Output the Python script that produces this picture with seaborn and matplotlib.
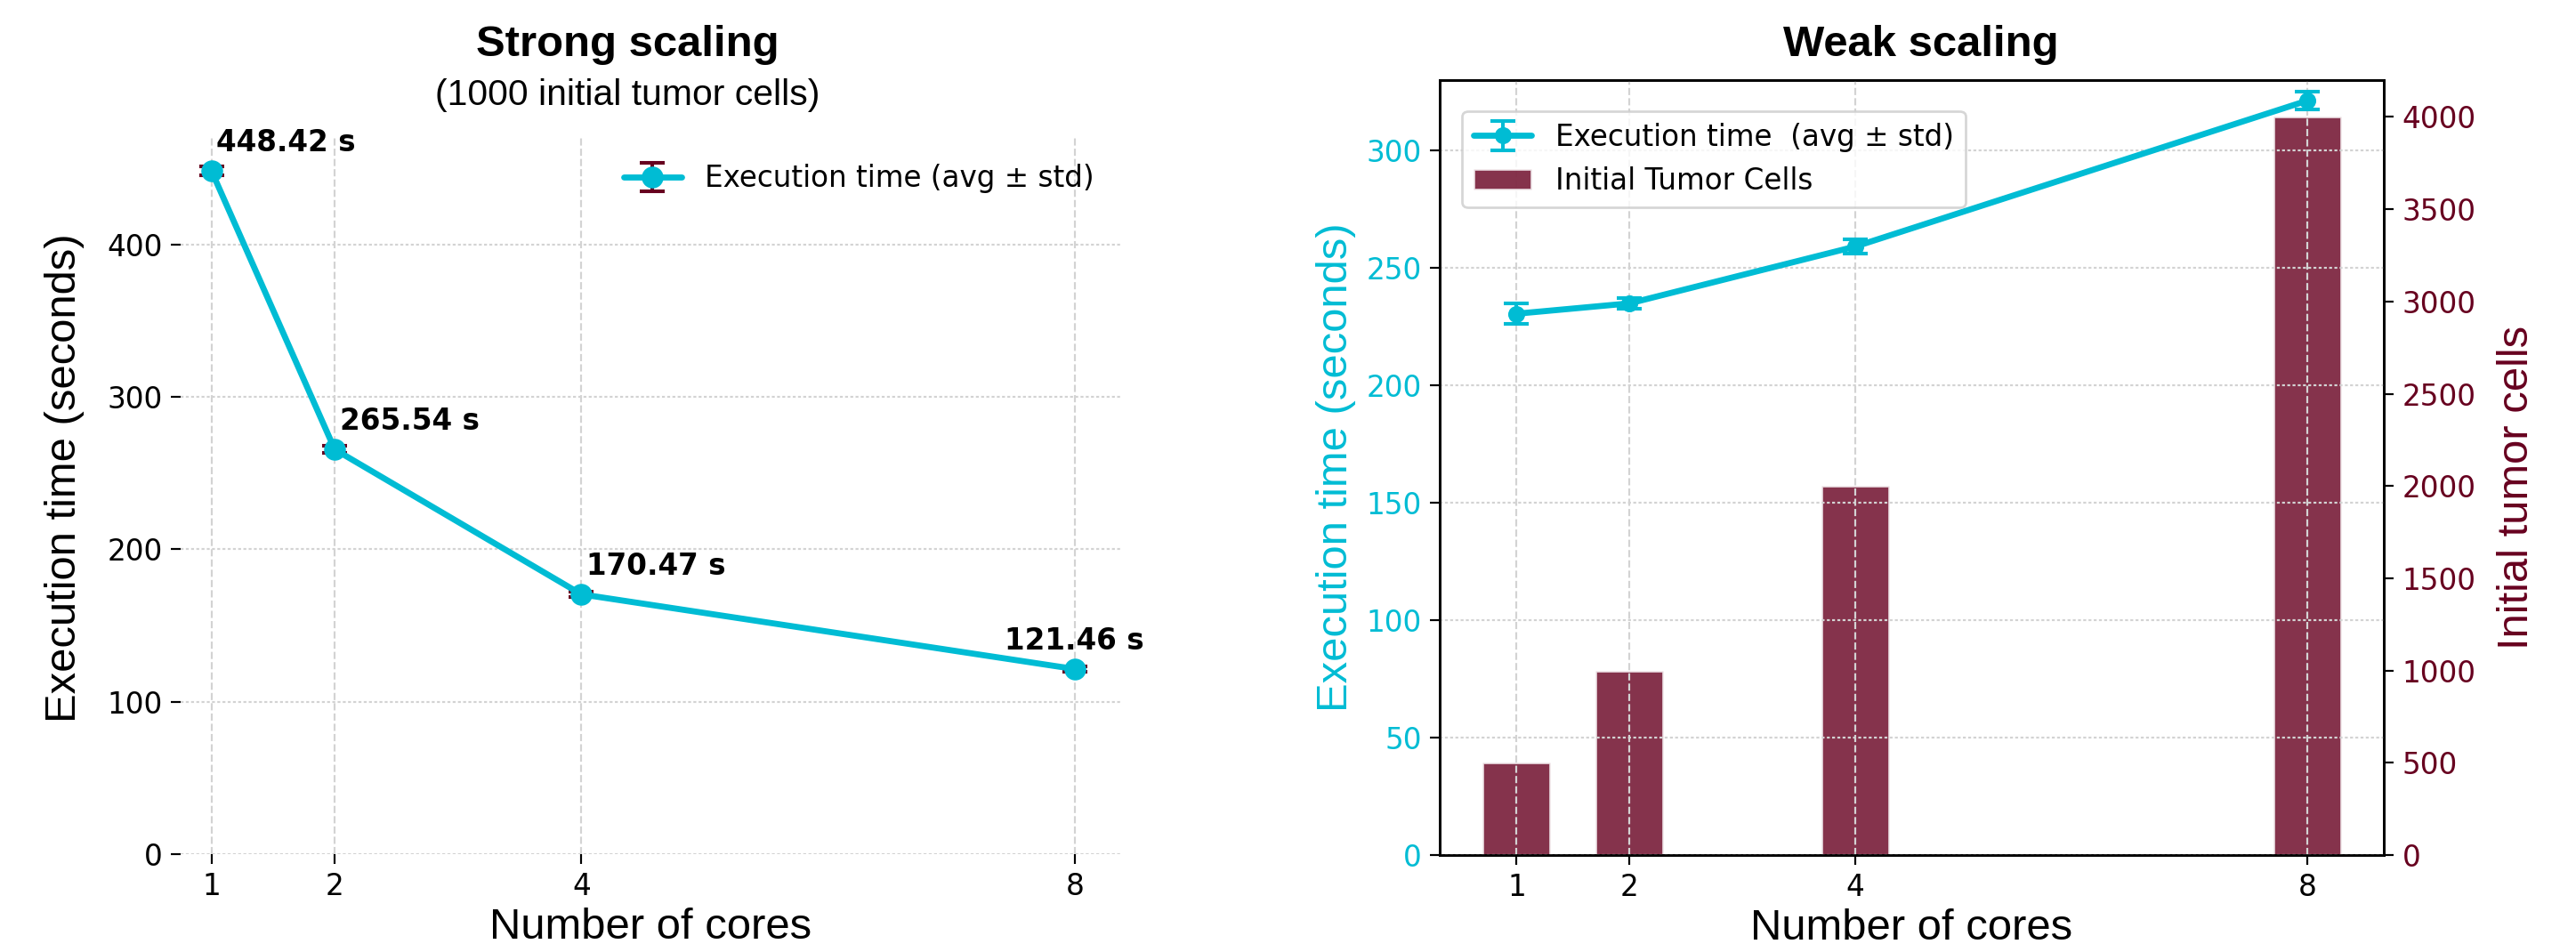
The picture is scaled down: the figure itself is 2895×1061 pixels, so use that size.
import matplotlib
matplotlib.use('Agg')
import matplotlib.pyplot as plt
import seaborn as sns

cores = [1, 2, 4, 8]

# strong scaling, 1000 initial tumor cells
strong_mean = [448.42, 265.54, 170.47, 121.46]
strong_std = [3.0, 2.5, 2.0, 1.5]

# weak scaling
weak_mean = [230.5, 234.9, 259.1, 321.2]
weak_std = [4.4, 2.3, 3.0, 3.9]
weak_cells = [500, 1000, 2000, 4000]

cyan = '#00bcd4'
maroon = '#67001f'
arial = 'Liberation Sans'

sns.set_style('whitegrid', {'grid.linestyle': '--', 'grid.color': '#d3d3d3',
                            'xtick.bottom': True, 'ytick.left': True,
                            'text.color': 'black', 'axes.labelcolor': 'black',
                            'xtick.color': 'black', 'ytick.color': 'black'})
plt.rcParams['font.family'] = ['DejaVu Sans']
plt.rcParams['grid.linewidth'] = 0.8

fig = plt.figure(figsize=(2895 / 196, 1061 / 196), dpi=196)
ax1 = fig.add_axes([0.0701, 0.0952, 0.3648, 0.7588])
ax2 = fig.add_axes([0.5589, 0.0943, 0.3665, 0.8209])

# ---- strong scaling
ax1.errorbar(cores, strong_mean, yerr=strong_std, fmt='-o', color=cyan, ecolor=maroon,
             lw=2.5, ms=8, capsize=5, elinewidth=1.5, capthick=1.5,
             label='Execution time (avg ± std)')
for x, y in zip(cores, strong_mean):
    if x == cores[-1]:
        ax1.annotate(f'{y:.2f} s', (x, y), xytext=(0, 8), textcoords='offset points',
                     ha='center', va='baseline', fontsize=12, fontweight='bold')
    else:
        ax1.annotate(f'{y:.2f} s', (x, y), xytext=(2, 8), textcoords='offset points',
                     ha='left', va='baseline', fontsize=12, fontweight='bold')

sns.despine(ax=ax1, left=True, bottom=True)
ax1.set_xlim(0.75, 8.37)
ax1.set_xticks(cores)
ax1.set_ylim(0, 470)
ax1.set_yticks([0, 100, 200, 300, 400])
ax1.grid(axis='y', linestyle=(0, (1.5, 1.2)))
ax1.tick_params(labelsize=12, length=4, color='k')
ax1.set_xlabel('Number of cores', fontsize=18, family=arial, labelpad=2.5)
ax1.set_ylabel('Execution time (seconds)', fontsize=18, family=arial)
ax1.yaxis.set_label_coords(-0.102, 0.525)
ax1.legend(loc='upper right', frameon=False, fontsize=12)

fig.text(0.2435, 1 - 63 / 1061, 'Strong scaling', ha='center', va='baseline',
         fontsize=18, fontweight='bold', family=arial)
fig.text(0.2435, 1 - 118 / 1061, '(1000 initial tumor cells)', ha='center', va='baseline',
         fontsize=15, family=arial)

# ---- weak scaling
ax2b = ax2.twinx()
sns.barplot(x=cores, y=weak_cells, ax=ax2b, native_scale=True, width=0.6,
            color=maroon, alpha=0.8, saturation=1, label='Initial Tumor Cells')
if ax2b.get_legend() is not None:
    ax2b.get_legend().remove()
ax2b.grid(False)
ax2b.set_ylim(0, 4200)
ax2b.set_yticks(range(0, 4001, 500))
ax2b.tick_params(axis='y', labelsize=12, labelcolor=maroon, right=True, length=4, color='k')
ax2b.set_ylabel('Initial tumor cells', fontsize=18, family=arial, color=maroon)
ax2b.yaxis.set_label_coords(1.12, 0.474)

ax2.set_zorder(ax2b.get_zorder() + 1)
ax2.patch.set_visible(False)
ax2.errorbar(cores, weak_mean, yerr=weak_std, fmt='-o', color=cyan, ecolor=cyan,
             lw=2.5, ms=6, capsize=5, elinewidth=1.5, capthick=1.5,
             label='Execution time  (avg ± std)')
ax2.set_ylim(0, 330)
ax2.set_yticks(range(0, 301, 50))
ax2.set_xlim(0.32, 8.68)
ax2.set_xticks(cores)
ax2.grid(axis='y', linestyle=(0, (1.5, 1.2)))
ax2.tick_params(labelsize=12, length=4, color='k')
ax2.tick_params(axis='y', labelcolor=cyan)
ax2.set_xlabel('Number of cores', fontsize=18, family=arial, labelpad=2.5)
ax2.set_ylabel('Execution time (seconds)', fontsize=18, family=arial, color=cyan)
for ax in (ax2, ax2b):
    for s in ax.spines.values():
        s.set_color('k')
        s.set_linewidth(1.0)

h1, l1 = ax2.get_legend_handles_labels()
h2, l2 = ax2b.get_legend_handles_labels()
ax2.legend(h1 + h2, l1 + l2, loc='upper left', bbox_to_anchor=(0.0236, 0.96),
           borderaxespad=0, fontsize=12)

fig.text(2159 / 2895, 1 - 63 / 1061, 'Weak scaling', ha='center', va='baseline',
         fontsize=18, fontweight='bold', family=arial)

fig.savefig('out.png', dpi=196)
